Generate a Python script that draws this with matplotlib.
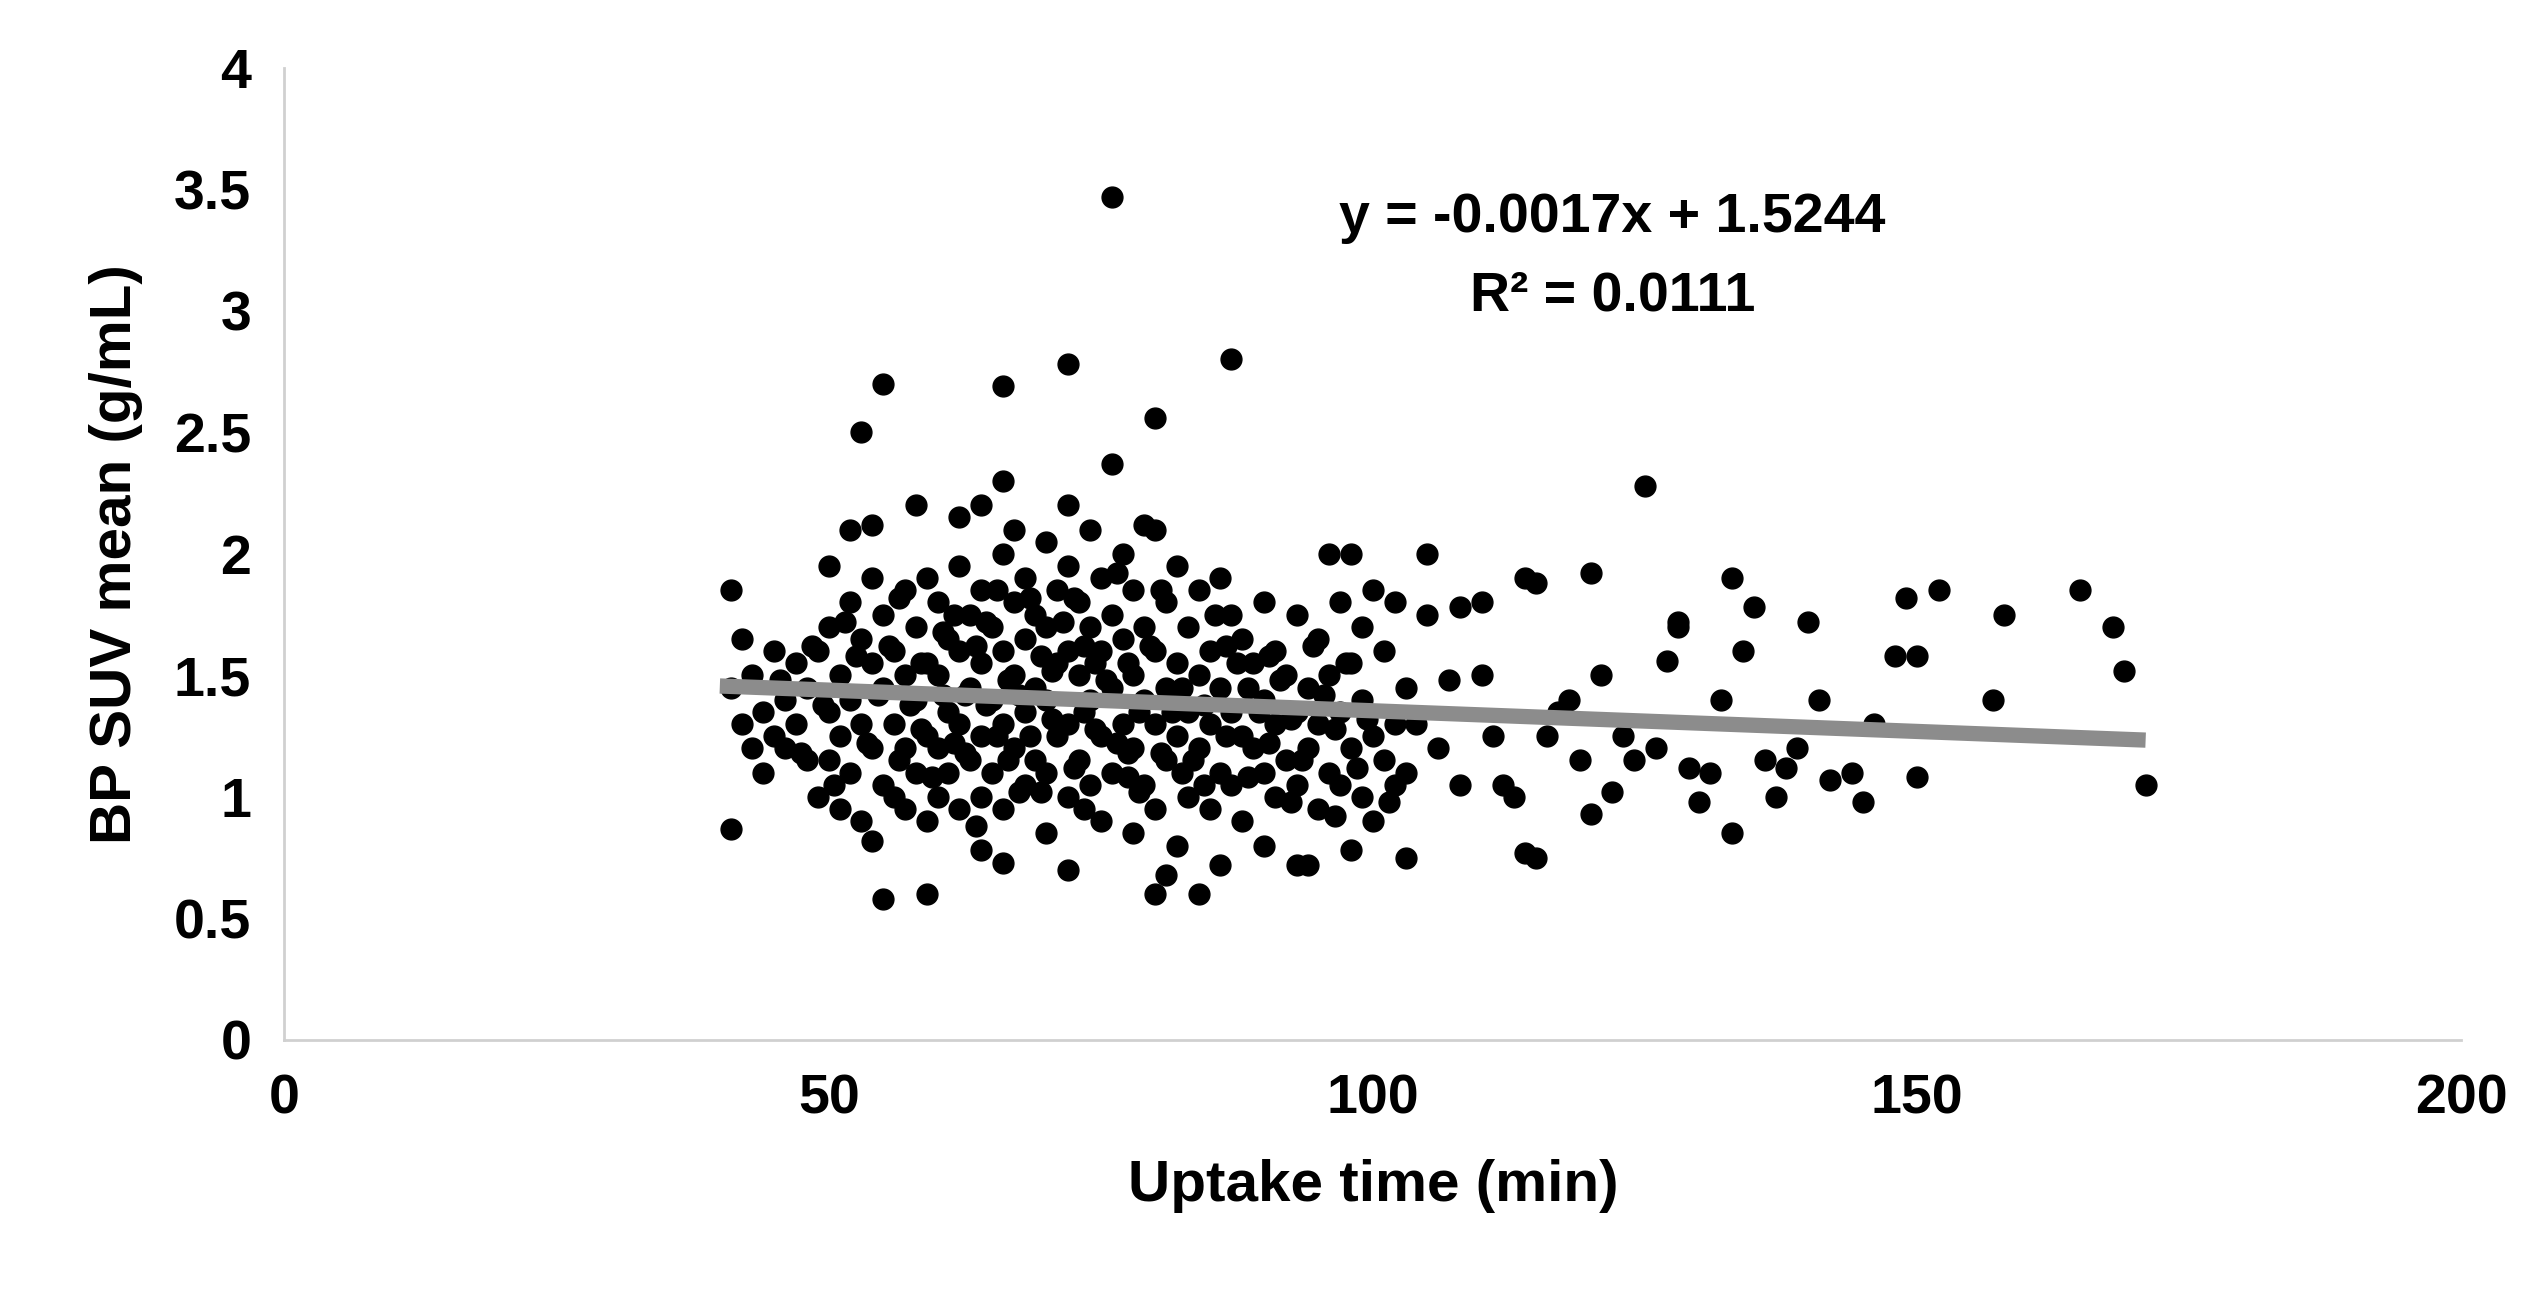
"""Scatter of BP SUV mean against uptake time with a linear trendline."""

import matplotlib
matplotlib.use("Agg")
import matplotlib.pyplot as plt
import numpy as np

plt.rcParams["font.family"] = ["Liberation Sans", "DejaVu Sans"]
plt.rcParams["font.weight"] = "bold"

# Points (uptake time in min, SUV mean in g/mL)
cluster_points = [
    (41, 1.85), (41, 1.45), (42, 1.3), (42, 1.65), (43, 1.2), (43, 1.5), (44, 1.35), (44, 1.1),
    (45, 1.25), (45, 1.6), (46, 1.4), (46, 1.2), (47, 1.55), (47, 1.3), (48, 1.15), (48, 1.45),
    (49, 1.6), (49, 1.0), (50, 1.95), (50, 1.7), (50, 1.35), (50, 1.15), (51, 1.5), (51, 1.25),
    (51, 0.95), (52, 1.8), (52, 1.4), (52, 1.1), (53, 1.65), (53, 1.3), (53, 0.9), (54, 1.9),
    (54, 1.55), (54, 1.2), (54, 0.82), (55, 1.75), (55, 1.45), (55, 1.05), (56, 1.6), (56, 1.3),
    (56, 1.0), (57, 1.85), (57, 1.5), (57, 1.2), (57, 0.95), (58, 1.7), (58, 1.4), (58, 1.1),
    (59, 1.9), (59, 1.55), (59, 1.25), (59, 0.9), (60, 1.8), (60, 1.5), (60, 1.2), (60, 1.0),
    (61, 1.65), (61, 1.35), (61, 1.1), (62, 1.95), (62, 1.6), (62, 1.3), (62, 0.95), (63, 1.75),
    (63, 1.45), (63, 1.15), (64, 1.85), (64, 1.55), (64, 1.25), (64, 1.0), (65, 1.7), (65, 1.4),
    (65, 1.1), (66, 2.0), (66, 1.6), (66, 1.3), (66, 0.95), (67, 1.8), (67, 1.5), (67, 1.2),
    (68, 1.9), (68, 1.65), (68, 1.35), (68, 1.05), (69, 1.75), (69, 1.45), (69, 1.15), (70, 2.05),
    (70, 1.7), (70, 1.4), (70, 1.1), (70, 0.85), (71, 1.85), (71, 1.55), (71, 1.25), (72, 1.95),
    (72, 1.6), (72, 1.3), (72, 1.0), (73, 1.8), (73, 1.5), (73, 1.15), (74, 2.1), (74, 1.7),
    (74, 1.4), (74, 1.05), (75, 1.9), (75, 1.6), (75, 1.25), (75, 0.9), (76, 1.75), (76, 1.45),
    (76, 1.1), (77, 2.0), (77, 1.65), (77, 1.3), (78, 1.85), (78, 1.5), (78, 1.2), (78, 0.85),
    (79, 1.7), (79, 1.4), (79, 1.05), (80, 2.1), (80, 1.6), (80, 1.3), (80, 0.95), (81, 1.8),
    (81, 1.45), (81, 1.15), (82, 1.95), (82, 1.55), (82, 1.25), (82, 0.8), (83, 1.7), (83, 1.35),
    (83, 1.0), (84, 1.85), (84, 1.5), (84, 1.2), (85, 1.6), (85, 1.3), (85, 0.95), (86, 1.9),
    (86, 1.45), (86, 1.1), (87, 1.75), (87, 1.35), (87, 1.05), (88, 1.65), (88, 1.25), (88, 0.9),
    (89, 1.55), (89, 1.2), (90, 1.8), (90, 1.4), (90, 1.1), (91, 1.6), (91, 1.3), (91, 1.0),
    (92, 1.5), (92, 1.15), (93, 1.75), (93, 1.35), (93, 1.05), (94, 1.45), (94, 1.2), (95, 1.65),
    (95, 1.3), (95, 0.95), (96, 2.0), (96, 1.5), (96, 1.1), (97, 1.8), (97, 1.35), (97, 1.05),
    (98, 2.0), (98, 1.55), (98, 1.2), (99, 1.7), (99, 1.4), (99, 1.0), (100, 1.85), (100, 1.25),
    (100, 0.9), (101, 1.6), (101, 1.15), (102, 1.8), (102, 1.3), (102, 1.05), (103, 1.45), (103, 1.1),
    (52.5, 1.58), (53.5, 1.22), (55.5, 1.62), (56.5, 1.15), (57.5, 1.38), (58.5, 1.55), (59.5, 1.08),
    (60.5, 1.42), (61.5, 1.75), (62.5, 1.18), (63.5, 1.62), (64.5, 1.38), (65.5, 1.85), (66.5, 1.15),
    (67.5, 1.42), (68.5, 1.25), (69.5, 1.58), (70.5, 1.32), (71.5, 1.72), (72.5, 1.12), (73.5, 1.62),
    (74.5, 1.28), (75.5, 1.48), (76.5, 1.22), (77.5, 1.55), (78.5, 1.35), (79.5, 1.62), (80.5, 1.18),
    (81.5, 1.35), (82.5, 1.45), (83.5, 1.15), (84.5, 1.38), (85.5, 1.75), (86.5, 1.25), (87.5, 1.55),
    (88.5, 1.45), (89.5, 1.35), (90.5, 1.22), (91.5, 1.48), (92.5, 1.32), (93.5, 1.15), (94.5, 1.62),
    (95.5, 1.42), (96.5, 1.28), (97.5, 1.55), (98.5, 1.12), (99.5, 1.32), (45.5, 1.48), (47.5, 1.18),
    (48.5, 1.62), (49.5, 1.38), (50.5, 1.05), (51.5, 1.72), (54.5, 1.42), (63.5, 0.88), (67.5, 1.02),
    (73.5, 0.95), (77.5, 1.08), (84.5, 1.05), (88.5, 1.08), (92.5, 0.98), (96.5, 0.92), (101.5, 0.98),
    (56.5, 1.82), (60.5, 1.68), (64.5, 1.72), (68.5, 1.82), (72.5, 1.82), (76.5, 1.92), (80.5, 1.85),
    (58.5, 1.28), (62.5, 1.42), (66.5, 1.48), (70.5, 1.52), (74.5, 1.55), (78.5, 1.02), (82.5, 1.1),
    (61.5, 1.22), (65.5, 1.25), (69.5, 1.02), (73.5, 1.35), (77.5, 1.18), (86.5, 1.62), (90.5, 1.58),
]

outlier_points = [
    (76, 3.47), (87, 2.8), (72, 2.78), (55, 2.7), (66, 2.69), (53, 2.5), (80, 2.56), (76, 2.37),
    (125, 2.28), (66, 2.3), (58, 2.2), (72, 2.2), (62, 2.15), (64, 2.2), (79, 2.12), (54, 2.12),
    (52, 2.1), (67, 2.1), (55, 0.58), (59, 0.6), (80, 0.6), (84, 0.6), (41, 0.87), (72, 0.7),
    (66, 0.73), (64, 0.78), (93, 0.72), (94, 0.72), (90, 0.8), (98, 0.78), (103, 0.75), (114, 0.77),
    (115, 0.75), (133, 0.85), (86, 0.72), (81, 0.68),
]

tail_points = [
    (108, 1.78), (110, 1.8), (114, 1.9), (115, 1.88), (120, 1.92), (121, 1.5), (122, 1.02),
    (120, 0.93), (127, 1.56), (128, 1.72), (128, 1.7), (130, 0.98), (133, 1.9), (134, 1.6),
    (135, 1.78), (132, 1.4), (137, 1.0), (138, 1.12), (140, 1.72), (141, 1.4), (142, 1.07),
    (144, 1.1), (145, 0.98), (148, 1.58), (149, 1.82), (150, 1.58), (150, 1.08), (152, 1.85),
    (157, 1.4), (158, 1.75), (165, 1.85), (168, 1.7), (169, 1.52), (171, 1.05), (126, 1.2),
    (124, 1.15), (118, 1.4), (117, 1.35), (116, 1.25), (112, 1.05), (110, 1.5), (107, 1.48),
    (106, 1.2), (105, 1.75), (104, 1.3), (113, 1.0), (119, 1.15), (123, 1.25), (129, 1.12),
    (131, 1.1), (136, 1.15), (139, 1.2), (146, 1.3), (105, 2.0), (108, 1.05), (111, 1.25),
]

slope = -0.0017
intercept = 1.5244
trend_x = [40, 171]

x_ticks = [0, 50, 100, 150, 200]
y_ticks = [0, 0.5, 1, 1.5, 2, 2.5, 3, 3.5, 4]
y_tick_labels = ["0", "0.5", "1", "1.5", "2", "2.5", "3", "3.5", "4"]

points = np.array(cluster_points + outlier_points + tail_points)

fig = plt.figure(figsize=(25.4, 13.04), dpi=100)
ax = fig.add_axes([0.112, 0.2025, 0.857, 0.7455])

ax.plot(points[:, 0], points[:, 1], "o", color="black", markersize=15, zorder=2)
trend_y = [slope * x + intercept for x in trend_x]
ax.plot(trend_x, trend_y, color="#8c8c8c", linewidth=11, solid_capstyle="butt", zorder=3)

ax.set_xlim(0, 200)
ax.set_ylim(0, 4)
ax.set_xticks(x_ticks)
ax.set_yticks(y_ticks)
ax.set_yticklabels(y_tick_labels)
ax.tick_params(length=0, labelsize=40, pad=24)
for side in ("top", "right"):
    ax.spines[side].set_visible(False)
for side in ("left", "bottom"):
    ax.spines[side].set_color("#d0d0d0")
    ax.spines[side].set_linewidth(2)

ax.set_xlabel("Uptake time (min)", fontsize=42, fontweight="bold", labelpad=24)
ax.set_ylabel("BP SUV mean (g/mL)", fontsize=42, fontweight="bold", labelpad=22)

ax.text(122, 3.38, "y = -0.0017x + 1.5244", fontsize=40, fontweight="bold", ha="center", va="center")
ax.text(122, 3.06, "R² = 0.0111", fontsize=40, fontweight="bold", ha="center", va="center")

fig.savefig("out.png", dpi=100)
plt.close(fig)
